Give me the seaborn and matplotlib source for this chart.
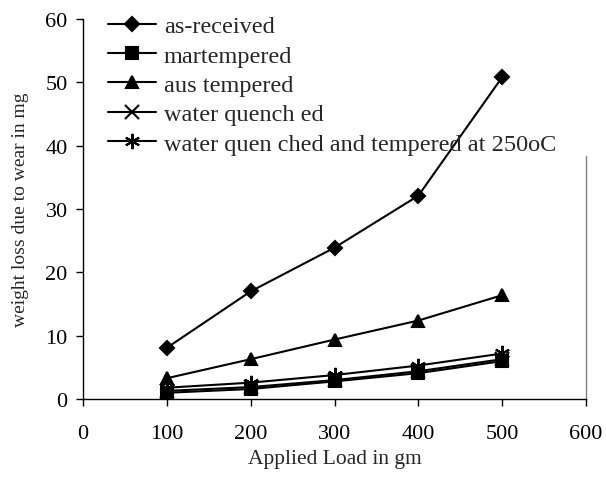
import matplotlib
matplotlib.use("Agg")
import matplotlib.pyplot as plt
import seaborn as sns
import pandas as pd

# Data
load = [100, 200, 300, 400, 500]
as_received = [8.1, 17.0, 23.9, 32.1, 50.8]
martempered = [1.0, 1.6, 2.8, 4.1, 6.0]
austempered = [3.3, 6.3, 9.4, 12.4, 16.4]
water_quenched = [1.3, 1.9, 3.0, 4.4, 6.3]
wq_tempered = [1.8, 2.6, 3.8, 5.3, 7.2]

names = ["as-received", "martempered", "aus tempered", "water quench ed",
         "water quen ched and tempered at 250oC"]
series = [as_received, martempered, austempered, water_quenched, wq_tempered]
markers = ["D", "s", "^", "x", (6, 2, 0)]
sizes = [7.5, 8, 8.5, 10, 11]

rows = []
for n, vals in zip(names, series):
    for x, y in zip(load, vals):
        rows.append({"load": x, "loss": y, "series": n})
df = pd.DataFrame(rows)

sns.set_style("white")
plt.rcParams["font.family"] = ["Liberation Serif", "DejaVu Serif"]

fig = plt.figure(figsize=(6.06, 4.85), dpi=100)
ax = fig.add_axes([0.137, 0.175, 0.83, 0.784])

for n, m, s in zip(names, markers, sizes):
    sub = df[df["series"] == n]
    sns.lineplot(data=sub, x="load", y="loss", ax=ax, color="black", lw=1.5,
                 marker=m, markersize=s, markeredgecolor="black",
                 markerfacecolor="black", markeredgewidth=1.5, label=n)

ax.set_xlim(0, 600)
ax.set_ylim(0, 60)
ax.set_xticks(range(0, 601, 100))
ax.set_yticks(range(0, 61, 10))
ax.tick_params(axis="both", direction="out", length=5, width=1, colors="black",
               labelsize=16, left=True, bottom=True)
ax.tick_params(axis="x", pad=13)
ax.tick_params(axis="y", pad=6)

for sp in ["left", "bottom"]:
    ax.spines[sp].set_color("black")
    ax.spines[sp].set_linewidth(1)
ax.spines["top"].set_visible(False)
ax.spines["right"].set_color("#808080")
ax.spines["right"].set_linewidth(1)
ax.spines["right"].set_bounds(0, 38.4)

ax.set_xlabel("Applied Load in gm", fontsize=15.5, labelpad=4)
ax.set_ylabel("weight loss due to wear in mg", fontsize=14, labelpad=12)

leg = ax.legend(loc="upper left", bbox_to_anchor=(0.03, 1.035), frameon=False,
                fontsize=17.5, handlelength=2.0, handletextpad=0.3,
                labelspacing=0.3, borderaxespad=0)

plt.savefig("out.png", dpi=100)
